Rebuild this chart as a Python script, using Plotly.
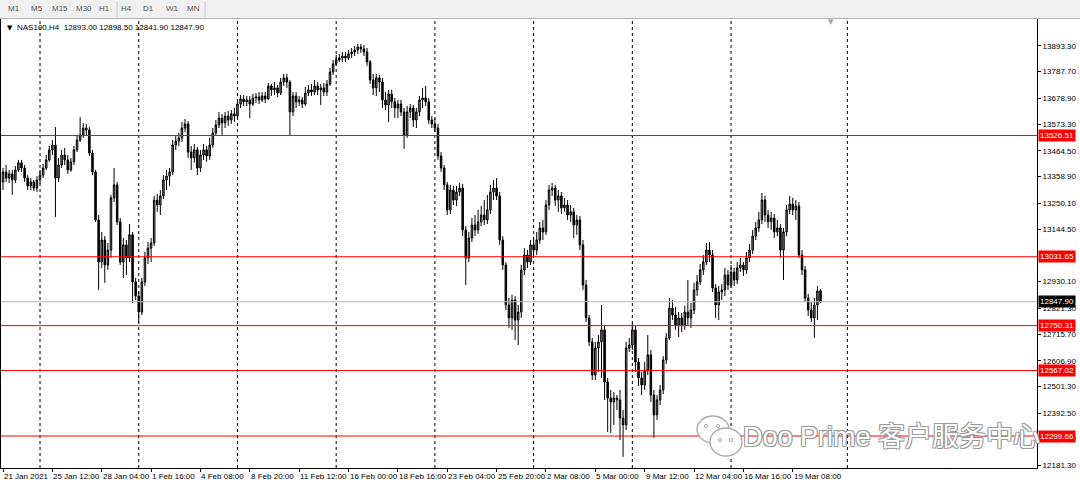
import plotly.graph_objects as go

# ---------------- data ----------------
opens = [13337, 13378, 13353, 13370, 13345, 13386, 13415, 13394, 13353, 13321,
         13337, 13312, 13345, 13365, 13394, 13427, 13468, 13488, 13353, 13406,
         13447, 13427, 13386, 13419, 13468, 13508, 13529, 13557, 13549, 13455,
         13378, 13182, 13010, 13100, 12998, 13059, 13272, 13325, 13174, 13010,
         13080, 13027, 13121, 12929, 12871, 12806, 12929, 13027, 13067, 13088,
         13263, 13243, 13280, 13345, 13361, 13378, 13488, 13504, 13517, 13557,
         13574, 13459, 13435, 13468, 13394, 13447, 13468, 13443, 13488, 13537,
         13570, 13598, 13578, 13606, 13590, 13615, 13606, 13655, 13676, 13664,
         13672, 13655, 13680, 13684, 13672, 13688, 13676, 13729, 13713, 13721,
         13700, 13745, 13762, 13745, 13623, 13688, 13664, 13672, 13655, 13700,
         13713, 13704, 13729, 13713, 13721, 13704, 13737, 13786, 13819, 13835,
         13843, 13851, 13843, 13860, 13868, 13876, 13888, 13880, 13868, 13827,
         13753, 13721, 13762, 13745, 13672, 13651, 13696, 13664, 13639, 13655,
         13623, 13529, 13623, 13639, 13590, 13623, 13672, 13680, 13664, 13590,
         13574, 13557, 13443, 13394, 13325, 13223, 13304, 13263, 13296, 13312,
         13141, 13027, 13108, 13161, 13141, 13174, 13202, 13182, 13223, 13296,
         13312, 13280, 13100, 12998, 12835, 12782, 12855, 12773, 12806, 12978,
         13039, 13010, 13080, 13059, 13100, 13149, 13133, 13243, 13304, 13312,
         13263, 13280, 13231, 13243, 13202, 13215, 13161, 13182, 13080, 12916,
         12782, 12684, 12549, 12659, 12684, 12733, 12520, 12455, 12439, 12455,
         12447, 12373, 12345, 12659, 12671, 12733, 12602, 12537, 12508, 12569,
         12631, 12467, 12386, 12447, 12488, 12610, 12700, 12822, 12794, 12753,
         12782, 12753, 12806, 12782, 12814, 12896, 12929, 12978, 13010, 13059,
         13039, 12904, 12835, 12888, 12896, 12957, 12916, 12969, 12937, 12986,
         12998, 12978, 13027, 13059, 13116, 13149, 13182, 13263, 13202, 13174,
         13190, 13133, 13149, 13059, 13133, 13223, 13247, 13223, 13239, 13039,
         12978, 12863, 12814, 12782, 12835, 12893.0]

highs = [13394, 13406, 13386, 13386, 13402, 13427, 13427, 13406, 13365, 13353,
         13345, 13361, 13386, 13410, 13447, 13484, 13508, 13561, 13435, 13468,
         13476, 13447, 13435, 13484, 13529, 13602, 13578, 13574, 13561, 13468,
         13386, 13202, 13133, 13116, 13088, 13284, 13394, 13337, 13190, 13108,
         13100, 13165, 13133, 12945, 12888, 12945, 13051, 13092, 13108, 13280,
         13288, 13304, 13365, 13386, 13394, 13508, 13525, 13537, 13582, 13594,
         13586, 13484, 13492, 13480, 13468, 13492, 13484, 13517, 13557, 13590,
         13623, 13615, 13623, 13627, 13631, 13639, 13672, 13692, 13692, 13688,
         13688, 13696, 13700, 13704, 13704, 13704, 13741, 13737, 13745, 13733,
         13762, 13778, 13778, 13753, 13704, 13704, 13688, 13684, 13725, 13733,
         13737, 13753, 13745, 13737, 13741, 13753, 13802, 13835, 13855, 13860,
         13868, 13868, 13876, 13884, 13892, 13900, 13900, 13896, 13884, 13835,
         13778, 13778, 13774, 13762, 13704, 13713, 13713, 13680, 13672, 13672,
         13639, 13647, 13655, 13651, 13639, 13688, 13721, 13729, 13680, 13606,
         13598, 13574, 13459, 13406, 13337, 13325, 13321, 13321, 13333, 13329,
         13157, 13133, 13190, 13202, 13223, 13239, 13263, 13284, 13325, 13345,
         13353, 13296, 13116, 13010, 12863, 12876, 12871, 12835, 12998, 13067,
         13059, 13100, 13108, 13133, 13174, 13182, 13263, 13325, 13333, 13325,
         13304, 13296, 13272, 13263, 13243, 13231, 13202, 13198, 13100, 12937,
         12794, 12700, 12684, 12712, 12835, 12749, 12537, 12488, 12479, 12467,
         12488, 12406, 12684, 12700, 12761, 12749, 12618, 12561, 12602, 12712,
         12651, 12488, 12467, 12508, 12626, 12720, 12863, 12855, 12827, 12806,
         12802, 12831, 12937, 12843, 12925, 12957, 13002, 13039, 13088, 13092,
         13059, 12920, 12912, 12920, 12986, 12978, 12998, 12986, 13010, 13027,
         13010, 13051, 13084, 13141, 13174, 13215, 13292, 13280, 13223, 13215,
         13206, 13182, 13165, 13149, 13243, 13280, 13272, 13263, 13255, 13059,
         12994, 12880, 12847, 12863, 12912, 12898.5]

lows = [13304, 13337, 13333, 13284, 13333, 13378, 13378, 13337, 13304, 13304,
        13300, 13296, 13329, 13353, 13386, 13419, 13447, 13194, 13337, 13394,
        13406, 13370, 13378, 13406, 13459, 13500, 13517, 13529, 13443, 13365,
        13174, 12896, 12986, 12925, 12978, 13027, 13255, 13161, 12998, 12945,
        12957, 13010, 12843, 12855, 12761, 12794, 12912, 13002, 13010, 13076,
        13215, 13202, 13267, 13304, 13321, 13365, 13468, 13484, 13500, 13541,
        13435, 13386, 13415, 13365, 13378, 13427, 13419, 13427, 13476, 13525,
        13557, 13529, 13557, 13566, 13574, 13582, 13598, 13639, 13647, 13647,
        13598, 13647, 13659, 13655, 13664, 13659, 13672, 13688, 13692, 13684,
        13692, 13729, 13721, 13529, 13606, 13639, 13647, 13639, 13647, 13688,
        13688, 13692, 13692, 13651, 13688, 13688, 13729, 13774, 13811, 13827,
        13827, 13827, 13835, 13843, 13851, 13860, 13864, 13851, 13811, 13737,
        13692, 13688, 13704, 13639, 13631, 13582, 13639, 13598, 13598, 13606,
        13472, 13517, 13598, 13561, 13557, 13606, 13639, 13647, 13574, 13557,
        13541, 13427, 13378, 13304, 13202, 13206, 13243, 13239, 13280, 13116,
        12916, 13010, 13092, 13116, 13125, 13157, 13161, 13165, 13206, 13263,
        13263, 13080, 12978, 12814, 12741, 12733, 12692, 12671, 12782, 12957,
        12986, 12998, 13035, 13039, 13084, 13100, 13121, 13223, 13280, 13239,
        13215, 13206, 13215, 13182, 13174, 13108, 13121, 13059, 12896, 12765,
        12667, 12528, 12528, 12561, 12537, 12447, 12316, 12312, 12345, 12406,
        12283, 12214, 12324, 12643, 12651, 12561, 12504, 12467, 12488, 12549,
        12439, 12292, 12365, 12426, 12471, 12594, 12692, 12773, 12733, 12704,
        12724, 12733, 12749, 12741, 12798, 12871, 12916, 12957, 12998, 13010,
        12888, 12782, 12773, 12855, 12871, 12896, 12904, 12912, 12920, 12969,
        12953, 12961, 13010, 13043, 13100, 13133, 13165, 13174, 13149, 13141,
        13108, 13116, 13027, 12937, 13116, 13206, 13202, 13182, 13027, 12957,
        12847, 12790, 12765, 12700, 12773, 12841.9]

closes = [13378, 13353, 13370, 13345, 13386, 13415, 13394, 13353, 13321, 13337,
          13312, 13345, 13365, 13394, 13427, 13468, 13488, 13353, 13406, 13447,
          13427, 13386, 13419, 13468, 13508, 13529, 13557, 13549, 13455, 13378,
          13182, 13010, 13100, 12998, 13059, 13272, 13325, 13174, 13010, 13080,
          13027, 13121, 12929, 12871, 12806, 12929, 13027, 13067, 13088, 13263,
          13243, 13280, 13345, 13361, 13378, 13488, 13504, 13517, 13557, 13574,
          13459, 13435, 13468, 13394, 13447, 13468, 13443, 13488, 13537, 13570,
          13598, 13578, 13606, 13590, 13615, 13606, 13655, 13676, 13664, 13672,
          13655, 13680, 13684, 13672, 13688, 13676, 13729, 13713, 13721, 13700,
          13745, 13762, 13745, 13623, 13688, 13664, 13672, 13655, 13700, 13713,
          13704, 13729, 13713, 13721, 13704, 13737, 13786, 13819, 13835, 13843,
          13851, 13843, 13860, 13868, 13876, 13888, 13880, 13868, 13827, 13753,
          13721, 13762, 13745, 13672, 13651, 13696, 13664, 13639, 13655, 13623,
          13529, 13623, 13639, 13590, 13623, 13672, 13680, 13664, 13590, 13574,
          13557, 13443, 13394, 13325, 13223, 13304, 13263, 13296, 13312, 13141,
          13027, 13108, 13161, 13141, 13174, 13202, 13182, 13223, 13296, 13312,
          13280, 13100, 12998, 12835, 12782, 12855, 12773, 12806, 12978, 13039,
          13010, 13080, 13059, 13100, 13149, 13133, 13243, 13304, 13312, 13263,
          13280, 13231, 13243, 13202, 13215, 13161, 13182, 13080, 12916, 12782,
          12684, 12549, 12659, 12684, 12733, 12520, 12455, 12439, 12455, 12447,
          12373, 12345, 12659, 12671, 12733, 12602, 12537, 12508, 12569, 12631,
          12467, 12386, 12447, 12488, 12610, 12700, 12822, 12794, 12753, 12782,
          12753, 12806, 12782, 12814, 12896, 12929, 12978, 13010, 13059, 13039,
          12904, 12835, 12888, 12896, 12957, 12916, 12969, 12937, 12986, 12998,
          12978, 13027, 13059, 13116, 13149, 13182, 13263, 13202, 13174, 13190,
          13133, 13149, 13059, 13133, 13223, 13247, 13223, 13239, 13039, 12978,
          12863, 12814, 12782, 12835, 12892, 12847.9]

date_tick_bars = [0, 16, 32, 48, 64, 80, 96, 112, 128, 144, 160, 176, 192, 208, 224, 240, 256]
date_tick_labels = ["21 Jan 2021", "25 Jan 12:00", "28 Jan 04:00", "1 Feb 16:00", "4 Feb 08:00",
                    "8 Feb 20:00", "11 Feb 12:00", "16 Feb 00:00", "18 Feb 16:00", "23 Feb 04:00",
                    "25 Feb 20:00", "2 Mar 08:00", "5 Mar 00:00", "9 Mar 12:00", "12 Mar 04:00",
                    "16 Mar 16:00", "19 Mar 08:00"]
grid_bars = [12, 44, 76, 108, 140, 172, 204, 236, 273.7]

price_ticks = [13893.30, 13787.70, 13678.90, 13573.30, 13464.50, 13358.90, 13250.10,
               13144.50, 12930.10, 12821.30, 12715.70, 12606.90, 12501.30,
               12392.50, 12288.90, 12181.30]

level_prices = [13526.51, 13031.65, 12750.31, 12567.02, 12299.66]
current_price = 12847.90
symbol_text = "NAS100,H4  12893.00 12898.50 12841.90 12847.90"
periods = ["M1", "M5", "M15", "M30", "H1", "H4", "D1", "W1", "MN"]
watermark = "Doo Prime 客户服务中心"

# ---------------- layout geometry ----------------
W, H = 1080, 483
ML, MR, MT, MB = 1, 43, 19, 15
PW, PH = W - ML - MR, H - MT - MB
BAR_PX = 3.085
x0 = -(3 - ML) / BAR_PX
x1 = x0 + PW / BAR_PX
PX_PER_PT = 4.083
ytop = 13893.30 + (45.7 - MT) * PX_PER_PT
ybot = ytop - PH * PX_PER_PT


def px_x(px):
    return (px - ML) / PW


def px_y(py):
    return (H - MB - py) / PH


FONT = "Liberation Sans"
bars = list(range(len(closes)))

fig = go.Figure()
# current price line (behind candles)
fig.add_trace(go.Scatter(x=[x0, x1], y=[current_price, current_price], mode="lines",
                         line=dict(color="#a7b9cc", width=1), hoverinfo="skip", showlegend=False))
fig.add_trace(go.Candlestick(
    x=bars, open=opens, high=highs, low=lows, close=closes,
    increasing=dict(fillcolor="#86867a", line=dict(color="#000000", width=1)),
    decreasing=dict(fillcolor="#000000", line=dict(color="#000000", width=1)),
    whiskerwidth=0, hoverinfo="skip", showlegend=False,
))
# horizontal level lines (above candles)
for p in level_prices:
    fig.add_trace(go.Scatter(x=[x0, x1], y=[p, p], mode="lines",
                             line=dict(color="#ff0000", width=1), hoverinfo="skip", showlegend=False))

shapes = []
# vertical dotted grid
for g in grid_bars:
    shapes.append(dict(type="line", xref="x", yref="paper", x0=g, x1=g, y0=0, y1=1,
                       line=dict(color="#000000", width=1, dash="dot"), layer="below"))

# toolbar
shapes.append(dict(type="rect", xref="paper", yref="paper", x0=px_x(0), x1=px_x(W),
                   y0=px_y(18), y1=px_y(-1), fillcolor="#f0f0f0", line=dict(width=0), layer="above"))
shapes.append(dict(type="line", xref="paper", yref="paper", x0=px_x(0), x1=px_x(W),
                   y0=px_y(18.5), y1=px_y(18.5), line=dict(color="#b4b4b4", width=1)))
shapes.append(dict(type="line", xref="paper", yref="paper", x0=px_x(117), x1=px_x(117),
                   y0=px_y(17), y1=px_y(1), line=dict(color="#c8c8c8", width=1)))
shapes.append(dict(type="line", xref="paper", yref="paper", x0=px_x(205), x1=px_x(205),
                   y0=px_y(17), y1=px_y(1), line=dict(color="#c8c8c8", width=1)))

# WeChat-like logo for watermark
wm_line = dict(color="#a8a8a8", width=1.3)
shapes.append(dict(type="circle", xref="paper", yref="paper", x0=px_x(697), x1=px_x(729),
                   y0=px_y(443), y1=px_y(416), fillcolor="#ffffff", line=wm_line, layer="above"))
shapes.append(dict(type="circle", xref="paper", yref="paper", x0=px_x(710), x1=px_x(742),
                   y0=px_y(456), y1=px_y(428), fillcolor="#ffffff", line=wm_line, layer="above"))
for cx, cy in [(706, 426), (718, 426), (720, 440), (731, 440)]:
    shapes.append(dict(type="circle", xref="paper", yref="paper", x0=px_x(cx - 1.6), x1=px_x(cx + 1.6),
                       y0=px_y(cy + 1.6), y1=px_y(cy - 1.6), fillcolor="#ffffff", line=dict(color="#a8a8a8", width=1), layer="above"))

annotations = []
# date labels (left-aligned at tick like MT4)
for b, t in zip(date_tick_bars, date_tick_labels):
    annotations.append(dict(x=b, y=0, xref="x", yref="paper", text=t, showarrow=False,
                            xanchor="left", yanchor="top", xshift=-1, yshift=-2,
                            font=dict(family=FONT, size=8, color="#000000")))
# level labels on price axis
for p in level_prices:
    annotations.append(dict(x=1, y=p, xref="paper", yref="y", text=f"{p:.2f}", showarrow=False,
                            xanchor="left", yanchor="middle", xshift=1,
                            bgcolor="#ff0000", borderpad=1,
                            font=dict(family=FONT, size=8, color="#ffffff")))
annotations.append(dict(x=1, y=current_price, xref="paper", yref="y", text=f"{current_price:.2f}",
                        showarrow=False, xanchor="left", yanchor="middle", xshift=1,
                        bgcolor="#000000", borderpad=1,
                        font=dict(family=FONT, size=8, color="#ffffff")))
# symbol header
annotations.append(dict(x=px_x(5), y=px_y(28), xref="paper", yref="paper", text="▼",
                        showarrow=False, xanchor="left", yanchor="middle",
                        font=dict(family="DejaVu Sans", size=7, color="#000000")))
annotations.append(dict(x=px_x(15), y=px_y(28), xref="paper", yref="paper", text=symbol_text,
                        showarrow=False, xanchor="left", yanchor="middle",
                        font=dict(family=FONT, size=8, color="#000000")))
# toolbar period buttons
period_px = [14, 37, 60, 84, 104, 126, 148, 172, 193]
for t, xp in zip(periods, period_px):
    annotations.append(dict(x=px_x(xp), y=px_y(9), xref="paper", yref="paper", text=t,
                            showarrow=False, xanchor="center", yanchor="middle",
                            font=dict(family=FONT, size=8, color="#555555")))
# chart-shift marker
annotations.append(dict(x=px_x(831), y=px_y(22), xref="paper", yref="paper", text="▼",
                        showarrow=False, xanchor="center", yanchor="middle",
                        font=dict(family="DejaVu Sans", size=7, color="#a0a0a0")))
# watermark
annotations.append(dict(x=px_x(741), y=px_y(437), xref="paper", yref="paper", text=watermark,
                        showarrow=False, xanchor="left", yanchor="middle",
                        font=dict(family="Liberation Sans, Noto Sans CJK SC", size=27, color="#ffffff",
                                  shadow="-1px -1px 0 #9a9a9a, 1px -1px 0 #9a9a9a, -1px 1px 0 #9a9a9a, 1px 1px 0 #9a9a9a")))

fig.update_layout(
    width=W, height=H,
    margin=dict(l=ML, r=MR, t=MT, b=MB, pad=0),
    paper_bgcolor="#ffffff", plot_bgcolor="#ffffff",
    shapes=shapes, annotations=annotations,
    xaxis=dict(range=[x0, x1], showgrid=False, zeroline=False, rangeslider=dict(visible=False),
               showline=True, linecolor="#000000", linewidth=1, mirror=True,
               tickmode="array", tickvals=date_tick_bars, ticks="outside", ticklen=3,
               tickcolor="#000000", showticklabels=False, fixedrange=True),
    yaxis=dict(range=[ybot, ytop], side="right", showgrid=False, zeroline=False,
               showline=True, linecolor="#000000", linewidth=1, mirror=True,
               tickmode="array", tickvals=price_ticks, ticktext=[f"{v:.2f}" for v in price_ticks],
               ticks="outside", ticklen=3, tickcolor="#000000", automargin=False,
               tickfont=dict(family=FONT, size=8, color="#000000")),
    showlegend=False,
)

fig.write_html("out.html", config={"displayModeBar": False},
               post_script="document.body.style.margin='0';document.body.style.padding='0';document.body.style.overflow='hidden';")
